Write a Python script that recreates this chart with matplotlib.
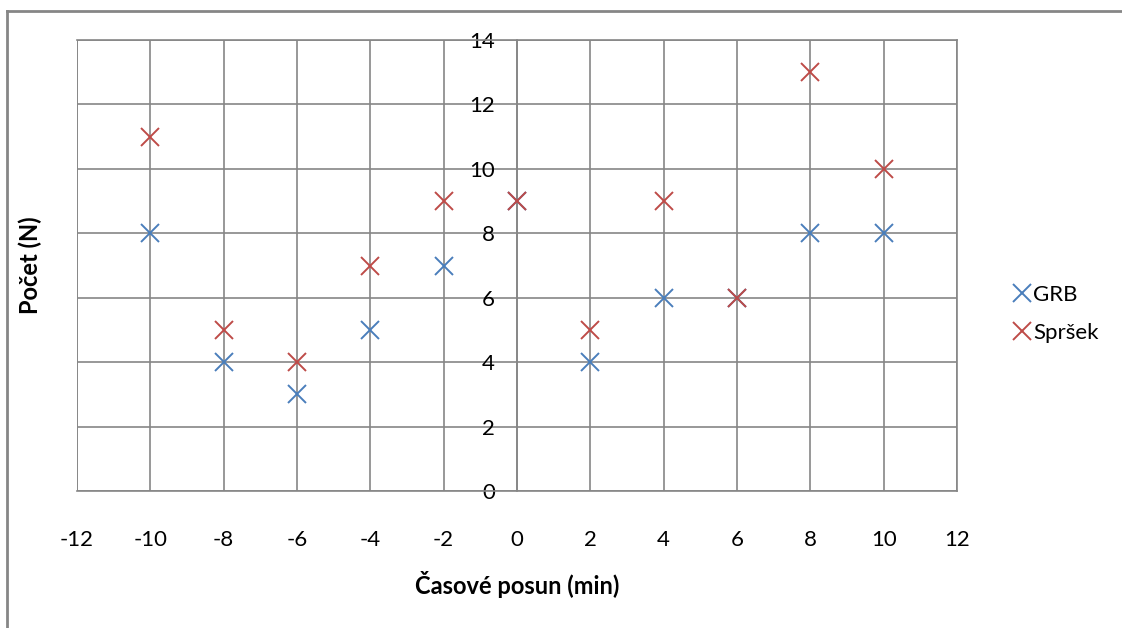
import matplotlib
matplotlib.use('agg')
import matplotlib.pyplot as plt
from matplotlib.lines import Line2D

# data
shift = [-10, -8, -6, -4, -2, 0, 2, 4, 6, 8, 10]
grb = [8, 4, 3, 5, 7, 9, 4, 6, 6, 8, 8]
sprsek = [11, 5, 4, 7, 9, 9, 5, 9, 6, 13, 10]
x_ticks = list(range(-12, 13, 2))
y_ticks = list(range(0, 15, 2))

plt.rcParams['font.family'] = ['Lato', 'DejaVu Sans']
plt.rcParams['axes.unicode_minus'] = False

fig = plt.figure(figsize=(11.22, 6.28), dpi=100)
ax = fig.add_axes([77 / 1122, 1 - 491 / 628, 880 / 1122, 451 / 628])

grid_col = '#868686'
ax.plot(shift, grb, linestyle='none', marker='x', markersize=13, mew=1.4,
        color='#4a7ebb', label='GRB', zorder=3)
ax.plot(shift, sprsek, linestyle='none', marker='x', markersize=13, mew=1.4,
        color='#be4b48', label='Spršek', zorder=3)

ax.set_xlim(-12, 12)
ax.set_ylim(0, 14)
ax.set_xticks(x_ticks)
ax.set_yticks(y_ticks)
ax.grid(True, color=grid_col, linewidth=1.2)
ax.set_axisbelow(True)
for s in ax.spines.values():
    s.set_color(grid_col)
    s.set_linewidth(1.2)
ax.spines['left'].set_position(('data', 0))
ax.spines['left'].set_zorder(2)
ax.tick_params(length=0, labelsize=16)
ax.tick_params(axis='x', pad=28)
ax.tick_params(axis='y', pad=16)

# outer frame of the left part of the plot area
ax.axvline(-12, color=grid_col, linewidth=1.2)

ax.set_xlabel('Časové posun (min)', fontsize=17, fontweight='bold', labelpad=15)
fig.text(30 / 1122, 1 - 265 / 628, 'Počet (N)', rotation=90, fontsize=17,
         fontweight='bold', ha='center', va='center')

ax.legend(loc='center left', bbox_to_anchor=(994 / 1122, 1 - 314 / 628),
          bbox_transform=fig.transFigure, frameon=False, fontsize=16,
          handlelength=0.7, handletextpad=0.15, labelspacing=0.8)

# chart border
fig.add_artist(Line2D([7 / 1122, 7 / 1122], [0, 1 - 11 / 628],
                      transform=fig.transFigure, color=grid_col, linewidth=2))
fig.add_artist(Line2D([7 / 1122, 1], [1 - 11 / 628, 1 - 11 / 628],
                      transform=fig.transFigure, color=grid_col, linewidth=2))

fig.savefig('out.png', dpi=100)
